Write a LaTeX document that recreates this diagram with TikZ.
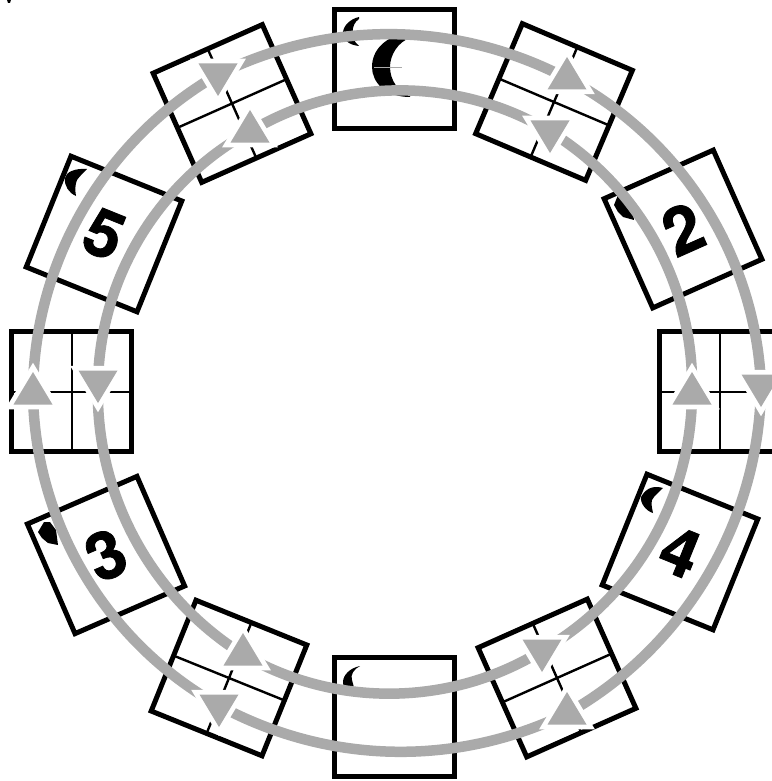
\documentclass[tikz,border=0pt]{standalone}
\usepackage{fontspec}
\setmainfont{TeX Gyre Heros}
\newfontfamily\digitfont[BoldFeatures={FakeBold=1.2}]{TeX Gyre Heros}
\usetikzlibrary{shapes.geometric}
\pgfdeclarelayer{tiles}\pgfdeclarelayer{rings}
\pgfsetlayers{tiles,rings,main}
\definecolor{ringgray}{HTML}{AAAAAA}
\newcommand{\dg}[2]{\raisebox{#1}{#2}}
\tikzset{
  x=1pt,y=1pt,
  tile/.style={draw=black,line width=5pt,minimum size=119.5pt,inner sep=0pt,outer sep=0pt,fill=white,
     line join=miter,font=\fontsize{66}{66}\digitfont\bfseries},
  gridline/.style={draw=black,line width=2.4pt},
  ringline/.style={draw=ringgray,line width=10.5pt},
  tri/.style={isosceles triangle,isosceles triangle stretches,minimum width=39pt,minimum height=32.5pt,
     inner sep=0pt,outer sep=0pt,anchor=apex,fill=ringgray,
     preaction={draw=white,line width=9.5pt,line join=miter}},
  triup/.style={tri,shape border rotate=90},
  tridown/.style={tri,shape border rotate=270},
  blob/.style={fill=black,draw=none},
}
\begin{document}
\begin{tikzpicture}
\useasboundingbox (0,0) rectangle (771,-781);
\begin{pgfonlayer}{tiles}
\node[tile] (top) at (394.5,-69) {};
\node[tile] (bot) at (394.5,-717) {};
\node[tile] (lft) at (71.7,-391.7) {};
\node[tile] (rgt) at (719.7,-391.7) {};
\node[tile,rotate=-23] (tr) at (554,-102) {};
\node[tile,rotate=24] (tl) at (232,-103.5) {};
\node[tile,rotate=-22] (bl) at (229,-678) {};
\node[tile,rotate=24] (br) at (557,-678) {};
\node[tile,rotate=-22] (t5) at (104,-234) {\dg{-3pt}{5}};
\node[tile,rotate=24] (t2) at (683,-229) {\dg{-3pt}{2}};
\node[tile,rotate=23.5] (t3) at (106,-555) {\dg{-2pt}{3}};
\node[tile,rotate=-22] (t4) at (680,-552) {\dg{-6pt}{4}};
\foreach \n in {lft,rgt,tr,tl,bl,br}{
  \draw[gridline] (\n.north)--(\n.south);
  \draw[gridline] (\n.west)--(\n.east);
}
% crescents of the top tile
\fill[blob] (410,-32) .. controls (385,-36) and (372,-50) .. (372,-67) .. controls (372,-82) and (385,-97) .. (410,-97)
  -- (410,-95) .. controls (398,-92) and (390,-80) .. (390,-67) .. controls (390,-55) and (398,-42) .. (410,-38) -- cycle;
\fill[blob] (359,-17) .. controls (350,-19) and (343,-26) .. (343,-33) .. controls (343,-40) and (349,-45) .. (359,-46)
  -- (356,-43) .. controls (352,-38) and (350,-25) .. (359,-19) -- cycle;
\draw[ringgray,line width=.4pt] (374,-67) -- (402,-67);
% crescent of the bottom tile
\fill[blob] (360,-666) .. controls (350,-668) and (343,-675) .. (343,-682) .. controls (343,-690) and (350,-694) .. (356,-695)
  -- (352,-680) .. controls (350,-675) and (354,-669) .. (360,-666) -- cycle;
% crescents of the numbered tiles
\fill[blob] (87,-169) .. controls (75,-168) and (66,-172) .. (65,-178) .. controls (64,-186) and (69,-193) .. (76,-196)
  .. controls (75,-190) and (75,-185) .. (77,-180) .. controls (80,-176) and (83,-173) .. (87,-169) -- cycle;
\fill[blob] (663,-488) .. controls (656,-486) and (647,-486) .. (641,-497) .. controls (640,-503) and (646,-511) .. (653,-513)
  .. controls (652,-508) and (651,-504) .. (652,-500) .. controls (654,-496) and (659,-492) .. (663,-488) -- cycle;
\fill[blob] (44,-522) -- (38,-532) -- (42,-538) -- (48,-543) -- (58,-545) -- (56,-530) -- (50,-522) -- cycle;
\fill[blob] (618,-195) -- (614,-205) -- (618,-212) -- (623,-217) -- (634,-220) -- (632,-205) -- (628,-195) -- cycle;
% small mark in the corner
\fill[blob] (7,0) -- (11,0) -- (10,-3) -- (8,-3) -- cycle;
\end{pgfonlayer}
% outer ring arrowheads
\node[tridown] (oa) at (218,-96) {};
\node[triup]   (ob) at (567,-57) {};
\node[tridown] (oc) at (761,-407) {};
\node[triup]   (od) at (567,-692) {};
\node[tridown] (oe) at (219,-727) {};
\node[triup]   (of) at (33,-372) {};
% inner ring arrowheads
\node[triup]   (ia) at (250,-110) {};
\node[tridown] (ib) at (550,-153) {};
\node[triup]   (ic) at (692,-372) {};
\node[tridown] (id) at (542,-672) {};
\node[triup]   (ie) at (243,-633) {};
\node[tridown] (if) at (98,-403) {};
\begin{pgfonlayer}{rings}
\draw[ringline] (oa.center) to[bend left=27,looseness=.91] (ob.center);
\draw[ringline] (ob.center) to[bend left=30,looseness=.91] (oc.center);
\draw[ringline] (oc.center) to[bend left=30,looseness=.91] (od.center);
\draw[ringline] (od.center) to[bend left=27,looseness=.91] (oe.center);
\draw[ringline] (oe.center) to[bend left=30,looseness=.91] (of.center);
\draw[ringline] (of.center) to[bend left=30,looseness=.91] (oa.center);
\draw[ringline] (ia.center) to[bend left=31,looseness=.91] (ib.center);
\draw[ringline] (ib.center) to[bend left=30,looseness=.91] (ic.center);
\draw[ringline] (ic.center) to[bend left=30,looseness=.91] (id.center);
\draw[ringline] (id.center) to[bend left=31,looseness=.91] (ie.center);
\draw[ringline] (ie.center) to[bend left=30,looseness=.91] (if.center);
\draw[ringline] (if.center) to[bend left=30,looseness=.91] (ia.center);
\end{pgfonlayer}
\end{tikzpicture}
\end{document}
